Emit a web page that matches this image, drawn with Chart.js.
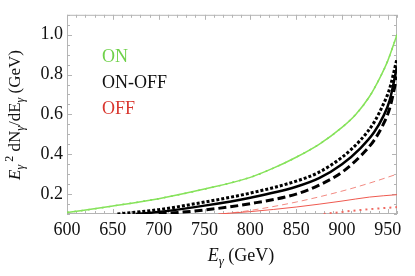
<!DOCTYPE html>
<html>
<head>
<meta charset="utf-8">
<script src="https://cdn.jsdelivr.net/npm/chart.js@4"></script>
<style>
  body { margin: 0; background: #fff; }
  canvas { display: block; }
</style>
</head>
<body>
<canvas id="spectrumChart" width="415" height="276"></canvas>
<script>
// values
const onE = [600, 650, 700, 750, 800, 825, 850, 875, 900, 915, 930, 942, 950, 960];
const onVal = [0.107, 0.14, 0.177, 0.225, 0.284, 0.33, 0.385, 0.45, 0.535, 0.6, 0.69, 0.79, 0.87, 1.0];

const diffE = [655, 700, 750, 800, 850, 875, 900, 920, 935, 945, 952, 960];
const diffDotted = [0.1, 0.122, 0.16, 0.205, 0.265, 0.31, 0.385, 0.47, 0.56, 0.65, 0.73, 0.88];
const diffSolidE = [675, 700, 750, 800, 850, 875, 900, 920, 935, 945, 952, 960];
const diffSolid = [0.1, 0.11, 0.142, 0.182, 0.237, 0.28, 0.35, 0.43, 0.51, 0.59, 0.67, 0.84];
const diffDashedE = [700, 750, 800, 850, 875, 900, 920, 935, 945, 952, 960];
const diffDashed = [0.1, 0.12, 0.152, 0.2, 0.245, 0.31, 0.39, 0.47, 0.55, 0.63, 0.79];

const offDashedE = [770, 800, 850, 900, 930, 960];
const offDashed = [0.1, 0.118, 0.16, 0.215, 0.255, 0.3];
const offSolidE = [765, 800, 850, 900, 930, 960];
const offSolid = [0.1, 0.112, 0.135, 0.165, 0.185, 0.197];
const offDottedE = [880, 920, 960];
const offDotted = [0.1, 0.12, 0.135];

const xTicks = [600, 650, 700, 750, 800, 850, 900, 950];
const yTicks = [0.2, 0.4, 0.6, 0.8, 1.0];
const legendItems = [['ON', '#6fd14a'], ['ON-OFF', '#111'], ['OFF', '#d9362e']];

const serif = '"Liberation Serif", "DejaVu Serif", serif';

function pts(xs, ys) {
    return xs.map((x, i) => ({ x: x, y: ys[i] }));
}

function line(data, color, width, dash) {
    return {
        data: data,
        borderColor: color,
        borderWidth: width,
        borderDash: dash || [],
        borderCapStyle: 'butt',
        pointRadius: 0,
        fill: false,
        cubicInterpolationMode: 'monotone'
    };
}

// draws a run of text pieces (for sub/superscripts)
function drawRuns(ctx, runs, size) {
    let w = 0;
    runs.forEach(r => {
        ctx.font = (r.italic ? 'italic ' : '') + Math.round(size * (r.scale || 1)) + 'px ' + serif;
        r.w = ctx.measureText(r.t).width;
        w += r.w;
    });
    let x = -w / 2;
    runs.forEach(r => {
        ctx.font = (r.italic ? 'italic ' : '') + Math.round(size * (r.scale || 1)) + 'px ' + serif;
        ctx.fillText(r.t, x, (r.dy || 0));
        x += r.w;
    });
}

const framePlugin = {
    id: 'frame',
    beforeDatasetsDraw(chart) {
        const { ctx, chartArea: a, scales } = chart;
        ctx.save();
        ctx.strokeStyle = '#b4b4b4';
        ctx.lineWidth = 1;
        ctx.strokeRect(a.left + 0.5, a.top + 0.5, a.right - a.left - 1, a.bottom - a.top - 1);
        ctx.beginPath();
        for (let v = 600; v <= 960; v += 10) {
            const x = Math.round(scales.x.getPixelForValue(v)) + 0.5;
            const len = v % 50 === 0 ? 5 : 3;
            ctx.moveTo(x, a.bottom); ctx.lineTo(x, a.bottom - len);
            ctx.moveTo(x, a.top); ctx.lineTo(x, a.top + len);
        }
        for (let i = 2; i <= 22; i++) {
            const v = i * 0.05;
            const y = Math.round(scales.y.getPixelForValue(v)) + 0.5;
            const len = i % 4 === 0 ? 5 : 3;
            ctx.moveTo(a.left, y); ctx.lineTo(a.left + len, y);
            ctx.moveTo(a.right, y); ctx.lineTo(a.right - len, y);
        }
        ctx.stroke();
        ctx.restore();
    },
    afterDraw(chart) {
        const { ctx } = chart;
        ctx.save();
        ctx.textBaseline = 'alphabetic';
        // legend labels
        ctx.font = '18px ' + serif;
        legendItems.forEach((item, i) => {
            ctx.fillStyle = item[1];
            ctx.textAlign = 'left';
            ctx.fillText(item[0], 102, 62 + i * 26);
        });
        ctx.fillStyle = '#111';
        // x title
        ctx.save();
        ctx.translate(241, 261);
        drawRuns(ctx, [
            { t: 'E', italic: true },
            { t: 'γ', italic: true, scale: 0.7, dy: 4 },
            { t: ' (GeV)' }
        ], 18);
        ctx.restore();
        // y title
        ctx.save();
        ctx.translate(20, 115);
        ctx.rotate(-Math.PI / 2);
        drawRuns(ctx, [
            { t: 'E', italic: true },
            { t: 'γ', italic: true, scale: 0.7, dy: 4 },
            { t: ' 2', scale: 0.7, dy: -7 },
            { t: ' dN' },
            { t: 'γ', italic: true, scale: 0.7, dy: 4 },
            { t: '/dE' },
            { t: 'γ', italic: true, scale: 0.7, dy: 4 },
            { t: ' (GeV)' }
        ], 17);
        ctx.restore();
        ctx.restore();
    }
};

const ctx = document.getElementById('spectrumChart').getContext('2d');
const spectrumChart = new Chart(ctx, {
    type: 'line',
    data: {
        datasets: [
            line(pts(offDottedE, offDotted), '#ef6a62', 2, [2, 4]),
            line(pts(offSolidE, offSolid), '#ef5a50', 1),
            line(pts(offDashedE, offDashed), '#f28a82', 1, [6, 4]),
            line(pts(diffDashedE, diffDashed), '#000', 3, [8, 4]),
            line(pts(diffSolidE, diffSolid), '#000', 2.5),
            line(pts(diffE, diffDotted), '#000', 3, [3, 2]),
            line(pts(onE, onVal), '#86e35a', 1.5),
            line(pts(onE, onVal), '#6fd14a', 1.5, [2, 5])
        ]
    },
    options: {
        responsive: false,
        animation: false,
        layout: { padding: { left: 0, top: 13, right: 18, bottom: 0 } },
        plugins: { legend: { display: false }, tooltip: { enabled: false } },
        scales: {
            x: {
                type: 'linear',
                min: 600,
                max: 960,
                grid: { display: false, drawTicks: false },
                border: { display: false },
                afterBuildTicks: (scale) => { scale.ticks = xTicks.map(v => ({ value: v })); },
                afterFit: (scale) => { scale.height = 62; },
                ticks: {
                    font: { family: serif, size: 18 },
                    color: '#111',
                    padding: 5,
                    maxRotation: 0,
                    callback: (v) => String(v)
                }
            },
            y: {
                type: 'linear',
                min: 0.1,
                max: 1.1,
                grid: { display: false, drawTicks: false },
                border: { display: false },
                afterBuildTicks: (scale) => { scale.ticks = yTicks.map(v => ({ value: v })); },
                afterFit: (scale) => { scale.width = 67; },
                ticks: {
                    font: { family: serif, size: 18 },
                    color: '#111',
                    padding: 4,
                    callback: (v) => Number(v).toFixed(1)
                }
            }
        }
    },
    plugins: [framePlugin]
});
</script>
</body>
</html>
